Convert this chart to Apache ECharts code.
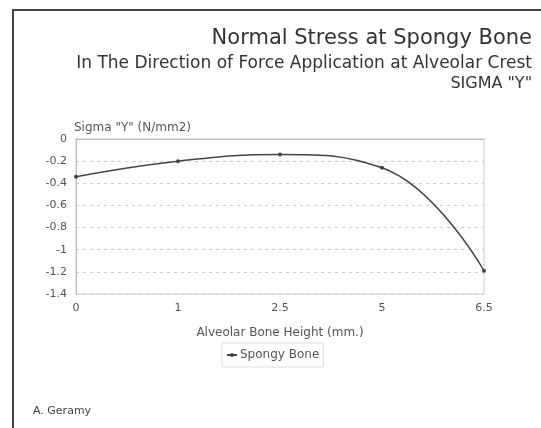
<!DOCTYPE html>
<html>
<head>
<meta charset="utf-8">
<script src="https://cdn.jsdelivr.net/npm/echarts@6/dist/echarts.min.js"></script>
<style>
  html, body { margin: 0; padding: 0; background: #fff; }
  #stress_chart { width: 541px; height: 428px; }
</style>
</head>
<body>
<div id="stress_chart"></div>
<script>
// bone height (mm) and sigma Y (N/mm2)
const heights = ['0', '1', '2.5', '5', '6.5'];
const spongyBone = [-0.34, -0.2, -0.14, -0.26, -1.19];

const font = 'DejaVu Sans, sans-serif';
const chart = echarts.init(document.getElementById('stress_chart'));

let option = {
    backgroundColor: '#fff',
    animation: false,
    title: [{
        text: 'Normal Stress at Spongy Bone',
        right: 4,
        top: 23,
        textStyle: { fontFamily: font, fontSize: 21, fontWeight: 'normal', color: '#333' }
    }, {
        text: 'In The Direction of Force Application at Alveolar Crest',
        right: 4,
        top: 50,
        textStyle: { fontFamily: font, fontSize: 17, fontWeight: 'normal', color: '#333' }
    }, {
        text: 'SIGMA "Y"',
        right: 4,
        top: 71,
        textStyle: { fontFamily: font, fontSize: 16, fontWeight: 'normal', color: '#333' }
    }, {
        text: 'A. Geramy',
        left: 28,
        top: 401,
        textStyle: { fontFamily: font, fontSize: 11, fontWeight: 'normal', color: '#444' }
    }],
    legend: {
        data: ['Spongy Bone'],
        left: 222,
        top: 343,
        itemWidth: 10,
        itemHeight: 5,
        itemGap: 4,
        padding: [6, 4],
        borderColor: '#ddd',
        borderWidth: 1,
        textStyle: { fontFamily: font, fontSize: 12, color: '#555', padding: [0, 0, 0, -2] }
    },
    grid: {
        left: 76,
        right: 57,
        top: 139,
        bottom: 134,
        show: true,
        borderColor: '#ccc',
        borderWidth: 1
    },
    xAxis: {
        type: 'category',
        data: heights,
        boundaryGap: false,
        name: 'Alveolar Bone Height (mm.)',
        nameLocation: 'middle',
        nameGap: 33,
        nameTextStyle: { fontFamily: font, fontSize: 12, color: '#555' },
        axisLine: { lineStyle: { color: '#bbb' } },
        axisTick: { show: false },
        axisLabel: { fontFamily: font, fontSize: 11, color: '#555', margin: 9 },
        splitLine: { show: false }
    },
    yAxis: {
        type: 'value',
        min: -1.4,
        max: 0,
        interval: 0.2,
        name: 'Sigma "Y" (N/mm2)',
        nameLocation: 'end',
        nameGap: 5,
        nameTextStyle: { fontFamily: font, fontSize: 12, color: '#555', align: 'left', padding: [0, 0, 0, -2] },
        axisLine: { show: true, lineStyle: { color: '#bbb' } },
        axisTick: { show: false },
        axisLabel: { fontFamily: font, fontSize: 11, color: '#555', margin: 9 },
        splitLine: { lineStyle: { color: '#ccc', type: [3, 4] } }
    },
    series: [{
        name: 'Spongy Bone',
        type: 'line',
        data: spongyBone,
        smooth: 0.45,
        symbol: 'circle',
        symbolSize: 4,
        lineStyle: { color: '#444', width: 1.5 },
        itemStyle: { color: '#444' }
    }],
    graphic: [{
        type: 'polyline',
        shape: { points: [[13, 428], [13, 10], [541, 10]] },
        style: { stroke: '#444', lineWidth: 2, fill: null }
    }]
};
chart.setOption(option);
</script>
</body>
</html>
